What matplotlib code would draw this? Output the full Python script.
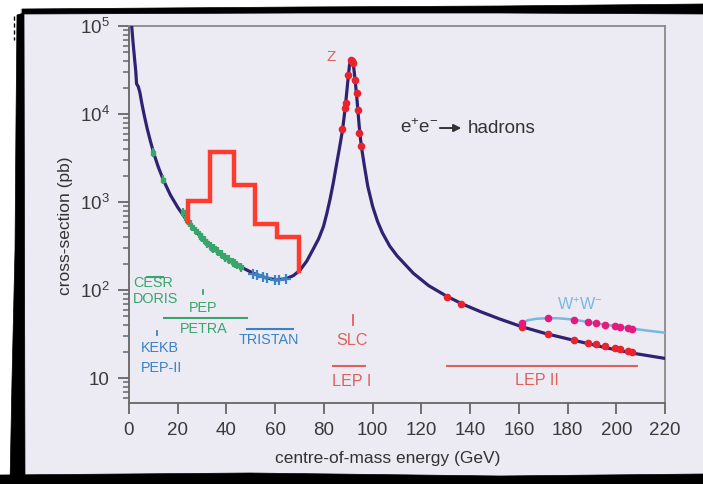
import matplotlib
matplotlib.use('Agg')
import matplotlib.pyplot as plt
from matplotlib import font_manager
from matplotlib.patches import Polygon, Rectangle
from matplotlib.ticker import FixedLocator, LogLocator, NullFormatter

# ---------------- data ----------------
curve_E = [1.1, 1.6, 2.2, 2.8, 3.1, 3.8, 4.5, 5.2, 6.2, 7.5, 8.8, 10.3, 12.0, 14.1,
           17.0, 20.0, 22.5, 24.4, 28.0, 33.2, 38.5, 44.2, 51.0, 56.0, 60.6, 64.7,
           67.5, 70.2, 73.0, 75.7, 77.8, 79.8, 81.2, 82.5, 83.8, 85.0, 86.3, 87.6,
           88.4, 89.1, 89.8, 90.5, 91.0, 91.2, 91.7, 92.1, 92.8, 93.5, 94.0, 94.5,
           95.0, 95.5, 96.5, 98.0, 100.0, 102.0, 104.0, 107.0, 110.0, 116.7, 123.0,
           130.4, 137.0, 144.1, 152.0, 161.2, 171.0, 182.4, 195.0, 207.0, 220.0]
curve_sigma = [100000, 68000, 45000, 30000, 22000, 20500, 17400, 13500, 9800, 6760,
               4900, 3470, 2510, 1780, 1200, 870, 690, 590, 447, 316, 243, 193, 155,
               138, 130, 135, 146, 168, 214, 295, 380, 525, 741, 1070, 1620, 2510,
               3980, 6460, 9770, 14800, 23400, 35900, 40900, 41700, 39800, 36300,
               24500, 15500, 10500, 7240, 5250, 4070, 2690, 1510, 891, 603, 447, 316,
               245, 155, 112, 85, 69, 57, 47, 38.3, 32, 26.9, 22.3, 19.1, 16.7]

ww_E = [160.5, 162.0, 164.0, 167.0, 171.0, 176.0, 182.0, 188.0, 194.0, 200.0, 206.0, 213.0, 220.0]
ww_sigma = [39.5, 43.5, 45.5, 47.0, 47.8, 47.8, 46.3, 43.5, 41.0, 38.8, 36.6, 34.5, 32.7]

low_E = [10.0, 14.0, 22.0, 23.5, 24.5, 26.0, 27.5, 29.0, 30.0, 31.0, 32.0, 33.5, 34.5,
         35.0, 36.5, 38.0, 39.5, 41.0, 42.5, 43.5, 44.5, 46.0]
low_sigma = [3650, 1800, 760, 650, 590, 520, 470, 420, 390, 365, 340, 312, 295, 300,
             272, 252, 236, 222, 207, 200, 193, 182]

tristan_E = [51.0, 52.5, 55.2, 56.5, 60.0, 61.4, 64.4]
tristan_sigma = [152, 148, 140, 137, 131, 130, 134]

z_E = [87.6, 88.7, 88.9, 90.0, 91.2, 91.4, 92.1, 92.8, 93.4, 93.9, 94.5, 95.2]
z_sigma = [6700, 11600, 13500, 27500, 41500, 40000, 37600, 24500, 17200, 11100, 6030, 4330]

lep2_E = [130.4, 136.3, 161.3, 172.1, 182.8, 188.6, 191.6, 195.5, 199.5, 201.6, 204.9, 206.6]
lep2_sigma = [84, 69, 37.7, 31.4, 27, 24.8, 24.2, 23.1, 21.7, 21.2, 20.4, 19.5]

wwpts_E = [161.3, 172.1, 182.8, 188.6, 191.6, 195.5, 199.5, 201.6, 204.9, 206.6]
wwpts_sigma = [42.0, 47.5, 46.0, 43.3, 42.2, 40.5, 39.0, 38.3, 37.0, 36.5]

step_edges = [24.4, 33.2, 43.2, 51.7, 60.6, 69.9]
step_heights = [1035, 3730, 1550, 556, 403]
step_start = 590
step_end = 164

x_ticks = [0, 20, 40, 60, 80, 100, 120, 140, 160, 180, 200, 220]
y_ticks = [10, 100, 1000, 10000, 100000]
y_tick_labels = ['10', '10$^2$', '10$^3$', '10$^4$', '10$^5$']

# ---------------- fonts ----------------
names = {f.name for f in font_manager.fontManager.ttflist}
NARROW = 'Liberation Sans Narrow' if 'Liberation Sans Narrow' in names else 'Liberation Sans'
nscale = 1.0 if NARROW == 'Liberation Sans Narrow' else 0.86

plt.rcParams['font.family'] = ['Liberation Sans', 'DejaVu Sans']
plt.rcParams['mathtext.fontset'] = 'custom'
plt.rcParams['mathtext.rm'] = 'Liberation Sans'
plt.rcParams['mathtext.it'] = 'Liberation Sans:italic'
plt.rcParams['mathtext.bf'] = 'Liberation Sans:bold'

# ---------------- figure ----------------
W, H = 703, 484
fig = plt.figure(figsize=(W / 100, H / 100), dpi=100)
fig.patch.set_facecolor('white')

def fx(px):
    return px / W

def fy(py):
    return 1 - py / H

bg = '#ecebf4'
fig.add_artist(Rectangle((fx(20), fy(477)), fx(703) - fx(20), fy(9) - fy(477),
                         transform=fig.transFigure, facecolor=bg, edgecolor='none', zorder=0))

# rough black frame
frame_polys = [
    [(17, 15), (24, 13), (25, 484), (10, 484), (12, 380), (15, 250), (16, 120)],
    [(22, 9), (300, 7), (500, 6), (703, 4), (703, 14), (500, 13), (300, 13), (22, 14)],
    [(0, 475), (250, 473), (500, 476), (703, 474), (703, 484), (0, 484)],
]
for poly in frame_polys:
    fig.add_artist(Polygon([(fx(a), fy(b)) for a, b in poly], closed=True,
                           transform=fig.transFigure, facecolor='black',
                           edgecolor='black', lw=0.5, zorder=1))
fig.add_artist(plt.Line2D([fx(14), fx(14)], [fy(16), fy(40)], transform=fig.transFigure,
                          color='black', lw=1.0, ls=(0, (3, 2)), zorder=1))

ax = fig.add_axes([fx(129), fy(403), fx(665) - fx(129), fy(26) - fy(403)])
ax.set_facecolor(bg)
ax.set_yscale('log')
ax.set_xlim(0, 220)
ax.set_ylim(5.2, 1e5)

# curves
ax.plot(curve_E, curve_sigma, color='#2e2370', lw=2.3, zorder=4,
        solid_capstyle='round', solid_joinstyle='round')
ax.plot(ww_E, ww_sigma, color='#7ab8e2', lw=1.8, zorder=3)

# red step histogram
sx = [step_edges[0]]
sy = [step_start]
for i, h in enumerate(step_heights):
    sx += [step_edges[i], step_edges[i + 1]]
    sy += [h, h]
sx.append(step_edges[-1])
sy.append(step_end)
ax.plot(sx, sy, color='#ff3b2e', lw=3.2, solid_joinstyle='miter', zorder=6)

# low-energy data
green = '#3aa56b'
blue = '#3b82c4'
ax.errorbar(low_E, low_sigma, yerr=[[s * 0.11 for s in low_sigma], [s * 0.12 for s in low_sigma]],
            fmt='s', ms=3, color=green, ecolor=green, elinewidth=1.6, capsize=0, zorder=5)
ax.errorbar(tristan_E, tristan_sigma,
            yerr=[[s * 0.12 for s in tristan_sigma], [s * 0.14 for s in tristan_sigma]],
            fmt='_', ms=7, mew=1.6, color=blue, ecolor=blue, elinewidth=1.6, capsize=0, zorder=5)

red = '#e8232d'
pink = '#e6197d'
ax.plot(z_E, z_sigma, 'o', color=red, ms=4.5, zorder=7)
ax.plot(lep2_E, lep2_sigma, 'o', color=red, ms=4.5, zorder=7)
ax.plot(wwpts_E, wwpts_sigma, 'o', color=pink, ms=4.5, zorder=7)

# accelerator annotations
lab_red = '#e0605c'
lab_w = '#7ab8e2'
fs_small = 12 * nscale
fs_red = 13.5 * nscale
ax.plot([7.3, 13.8], [141.6, 141.6], color=green, lw=1.5)
ax.text(1.7, 119, 'CESR', color=green, fontsize=fs_small, family=NARROW, ha='left', va='center')
ax.text(1.7, 79, 'DORIS', color=green, fontsize=fs_small, family=NARROW, ha='left', va='center')
ax.plot([30.5, 30.5], [89.3, 100], color=green, lw=1.3)
ax.text(30.5, 62, 'PEP', color=green, fontsize=fs_small, family=NARROW, ha='center', va='center')
ax.plot([14.5, 48.3], [48.4, 48.4], color=green, lw=1.5)
ax.text(30.8, 35.7, 'PETRA', color=green, fontsize=fs_small, family=NARROW, ha='center', va='center')
ax.plot([48.3, 67.2], [35.7, 35.7], color=blue, lw=1.5)
ax.text(57.5, 27, 'TRISTAN', color=blue, fontsize=fs_small, family=NARROW, ha='center', va='center')
ax.plot([11.4, 11.4], [30.8, 34.4], color=blue, lw=1.3)
ax.text(4.8, 21.8, 'KEKB', color=blue, fontsize=fs_small, family=NARROW, ha='left', va='center')
ax.text(4.8, 13.1, 'PEP-II', color=blue, fontsize=fs_small, family=NARROW, ha='left', va='center')

ax.plot([92.0, 92.0], [40, 52], color=lab_red, lw=1.3)
ax.text(91.4, 26.6, 'SLC', color=lab_red, fontsize=fs_red, family=NARROW, ha='center', va='center')
ax.plot([83.6, 96.9], [13.8, 13.8], color=lab_red, lw=1.5)
ax.text(91.4, 9.08, 'LEP I', color=lab_red, fontsize=fs_red, family=NARROW, ha='center', va='center')
ax.plot([130.4, 208.4], [13.7, 13.7], color=lab_red, lw=1.5)
ax.text(167.3, 9.49, 'LEP II', color=lab_red, fontsize=fs_red, family=NARROW, ha='center', va='center')
ax.text(185.1, 67.6, 'W$^{+}$W$^{-}$', color=lab_w, fontsize=fs_red, ha='center', va='center')
ax.text(82.9, 44500, 'Z', color=lab_red, fontsize=11, ha='center', va='center')

# e+e- -> hadrons
ax.text(111.2, 6930, 'e$^{+}$e$^{-}$', color='#333333', fontsize=13.5, ha='left', va='center')
ax.annotate('', xy=(136.4, 6930), xytext=(127.6, 6930),
            arrowprops=dict(arrowstyle='-|>', color='#333333', lw=1.4, mutation_scale=11,
                            shrinkA=0, shrinkB=0))
ax.text(139.0, 6930, 'hadrons', color='#333333', fontsize=13.5, ha='left', va='center')

# axes styling
for side in ['left', 'bottom']:
    ax.spines[side].set_color('#666666')
    ax.spines[side].set_linewidth(1.3)
for side in ['top', 'right']:
    ax.spines[side].set_color('#8a8a8a')
    ax.spines[side].set_linewidth(1.3)

ax.xaxis.set_major_locator(FixedLocator(x_ticks))
ax.set_xticklabels([str(t) for t in x_ticks])
ax.yaxis.set_major_locator(FixedLocator(y_ticks))
ax.set_yticklabels(y_tick_labels)
ax.yaxis.set_minor_locator(LogLocator(base=10, subs=[2, 3, 4, 5, 6, 7, 8, 9], numticks=20))
ax.yaxis.set_minor_formatter(NullFormatter())
ax.tick_params(axis='both', which='major', direction='out', colors='#666666',
               labelcolor='#3a3a3a', labelsize=13.5, width=1.3, pad=6)
ax.tick_params(axis='x', which='major', length=8)
ax.tick_params(axis='y', which='major', length=8)
ax.tick_params(axis='y', which='minor', direction='out', length=4.5, width=1.1, colors='#666666')

ax.set_xlabel('centre-of-mass energy (GeV)', fontsize=12.5, color='#333333')
ax.set_ylabel('cross-section (pb)', fontsize=12.5, color='#333333')
ax.xaxis.set_label_coords(0.482, -0.128)
ax.yaxis.set_label_coords(-0.105, 0.47)

fig.savefig('out.png', dpi=100, facecolor=fig.get_facecolor())
